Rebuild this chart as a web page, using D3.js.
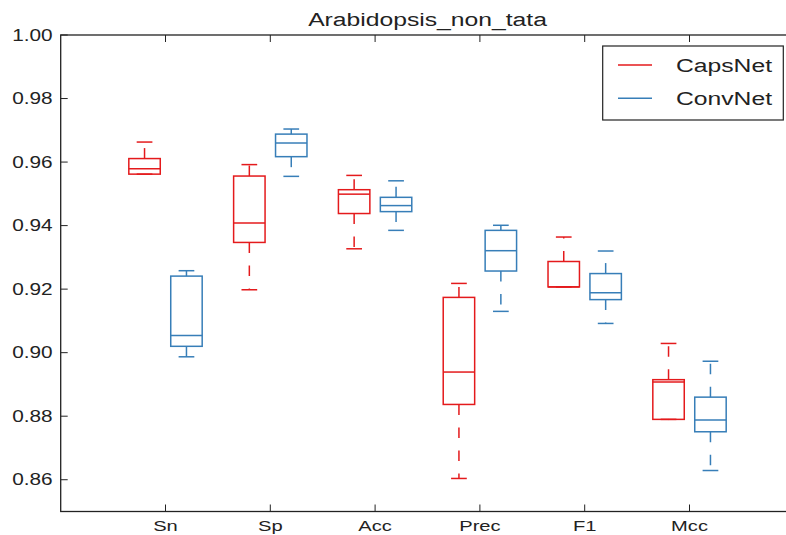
<!DOCTYPE html>
<html>
<head>
<meta charset="utf-8">
<script src="https://cdn.jsdelivr.net/npm/d3@7"></script>
<style>
  html, body { margin: 0; padding: 0; background: #fff; overflow: hidden; }
  svg { display: block; font-family: "Liberation Sans", Arial, sans-serif; }
</style>
</head>
<body>
<svg id="chart" width="786" height="535"></svg>
<script>
// Metrics and per-model box statistics (whisker low, Q1, median, Q3, whisker high)
const categories = ["Sn", "Sp", "Acc", "Prec", "F1", "Mcc"];
const seriesNames = ["CapsNet", "ConvNet"];

const capsLow  = [0.9562, 0.9198, 0.9327, 0.8604, 0.9207, 0.8790];
const capsQ1   = [0.9562, 0.9347, 0.9438, 0.8837, 0.9207, 0.8790];
const capsMed  = [0.9579, 0.9408, 0.9499, 0.8939, 0.9207, 0.8908];
const capsQ3   = [0.9611, 0.9556, 0.9513, 0.9174, 0.9287, 0.8915];
const capsHigh = [0.9663, 0.9592, 0.9558, 0.9218, 0.9364, 0.9029];

const convLow  = [0.8987, 0.9555, 0.9385, 0.9130, 0.9092, 0.8629];
const convQ1   = [0.9020, 0.9617, 0.9444, 0.9257, 0.9167, 0.8751];
const convMed  = [0.9054, 0.9660, 0.9463, 0.9321, 0.9189, 0.8788];
const convQ3   = [0.9241, 0.9688, 0.9489, 0.9385, 0.9249, 0.8860];
const convHigh = [0.9258, 0.9704, 0.9541, 0.9401, 0.9320, 0.8973];

const yTicks = [0.86, 0.88, 0.90, 0.92, 0.94, 0.96, 0.98, 1.00];

const colors = { CapsNet: "#e41a1c", ConvNet: "#377eb8" };
const textStretch = 1.3;

const svg = d3.select("#chart");
const plot = { left: 60.7, right: 794.3, top: 35, bottom: 511.5 };

const x = d3.scaleLinear().domain([0, categories.length + 1]).range([plot.left, plot.right]);
const y = d3.scaleLinear().domain([0.85, 1.00]).range([plot.bottom, plot.top]);

const boxes = [];
categories.forEach((c, i) => {
  boxes.push({ name: "CapsNet", pos: i + 1 - 0.2, low: capsLow[i], q1: capsQ1[i], med: capsMed[i], q3: capsQ3[i], high: capsHigh[i] });
  boxes.push({ name: "ConvNet", pos: i + 1 + 0.2, low: convLow[i], q1: convQ1[i], med: convMed[i], q3: convQ3[i], high: convHigh[i] });
});

const boxW = 0.3, capW = 0.15;
const g = svg.append("g");

const bg = g.selectAll("g.box").data(boxes).join("g").attr("class", "box")
  .attr("stroke", d => colors[d.name]).attr("fill", "none").attr("stroke-width", 1.5);

// whiskers (dashed, drawn outward from box edges)
bg.append("line")
  .attr("x1", d => x(d.pos)).attr("x2", d => x(d.pos))
  .attr("y1", d => y(d.q3)).attr("y2", d => y(d.high))
  .attr("stroke-dasharray", "10.5,12.5");
bg.append("line")
  .attr("x1", d => x(d.pos)).attr("x2", d => x(d.pos))
  .attr("y1", d => y(d.q1)).attr("y2", d => y(d.low))
  .attr("stroke-dasharray", "10.5,12.5");
// caps
bg.append("line")
  .attr("x1", d => x(d.pos - capW / 2)).attr("x2", d => x(d.pos + capW / 2))
  .attr("y1", d => y(d.high)).attr("y2", d => y(d.high));
bg.append("line")
  .attr("x1", d => x(d.pos - capW / 2)).attr("x2", d => x(d.pos + capW / 2))
  .attr("y1", d => y(d.low)).attr("y2", d => y(d.low));
// box
bg.append("rect")
  .attr("x", d => x(d.pos - boxW / 2)).attr("width", d => x(d.pos + boxW / 2) - x(d.pos - boxW / 2))
  .attr("y", d => y(d.q3)).attr("height", d => y(d.q1) - y(d.q3));
// median
bg.append("line")
  .attr("x1", d => x(d.pos - boxW / 2)).attr("x2", d => x(d.pos + boxW / 2))
  .attr("y1", d => y(d.med)).attr("y2", d => y(d.med));

// axes frame (right side falls outside the canvas)
const axisColor = "#222";
g.append("rect")
  .attr("x", plot.left).attr("y", plot.top)
  .attr("width", plot.right - plot.left).attr("height", plot.bottom - plot.top)
  .attr("fill", "none").attr("stroke", axisColor).attr("stroke-width", 1.3);

// inward ticks on all sides
const tickLen = 7;
const xTickPos = categories.map((c, i) => i + 1);
g.append("g").selectAll("line").data(xTickPos).join("line")
  .attr("x1", d => x(d)).attr("x2", d => x(d))
  .attr("y1", plot.bottom).attr("y2", plot.bottom - tickLen)
  .attr("stroke", axisColor).attr("stroke-width", 1);
g.append("g").selectAll("line").data(xTickPos).join("line")
  .attr("x1", d => x(d)).attr("x2", d => x(d))
  .attr("y1", plot.top).attr("y2", plot.top + tickLen)
  .attr("stroke", axisColor).attr("stroke-width", 1);
g.append("g").selectAll("line").data(yTicks).join("line")
  .attr("x1", plot.left).attr("x2", plot.left + tickLen)
  .attr("y1", d => y(d)).attr("y2", d => y(d))
  .attr("stroke", axisColor).attr("stroke-width", 1);
g.append("g").selectAll("line").data(yTicks).join("line")
  .attr("x1", plot.right).attr("x2", plot.right - tickLen)
  .attr("y1", d => y(d)).attr("y2", d => y(d))
  .attr("stroke", axisColor).attr("stroke-width", 1);

// tick labels
g.append("g").selectAll("text").data(yTicks).join("text")
  .attr("transform", d => `translate(${plot.left - 8},${y(d)}) scale(${textStretch},1)`)
  .attr("text-anchor", "end").attr("dy", "0.36em")
  .attr("font-size", 16).attr("fill", axisColor)
  .text(d => d3.format(".2f")(d));
g.append("g").selectAll("text").data(categories).join("text")
  .attr("transform", (d, i) => `translate(${x(i + 1)},530.5) scale(${textStretch},1)`)
  .attr("text-anchor", "middle")
  .attr("font-size", 15.5).attr("fill", axisColor)
  .text(d => d);

// title
g.append("text")
  .attr("transform", `translate(${(plot.left + plot.right) / 2},26) scale(${textStretch},1)`)
  .attr("text-anchor", "middle").attr("font-size", 19).attr("fill", axisColor)
  .text("Arabidopsis_non_tata");

// legend
const lg = g.append("g");
lg.append("rect").attr("x", 602.7).attr("y", 46).attr("width", 180.6).attr("height", 74)
  .attr("fill", "#fff").attr("stroke", axisColor).attr("stroke-width", 1.2);
const items = lg.selectAll("g.item").data(seriesNames).join("g").attr("class", "item")
  .attr("transform", (d, i) => `translate(0,${65 + i * 33.3})`);
items.append("line").attr("x1", 618).attr("x2", 652).attr("y1", 0).attr("y2", 0)
  .attr("stroke", d => colors[d]).attr("stroke-width", 1.5);
items.append("text").attr("transform", `translate(676,0) scale(${textStretch},1)`)
  .attr("dy", "0.36em").attr("font-size", 19).attr("fill", axisColor)
  .text(d => d);
</script>
</body>
</html>
